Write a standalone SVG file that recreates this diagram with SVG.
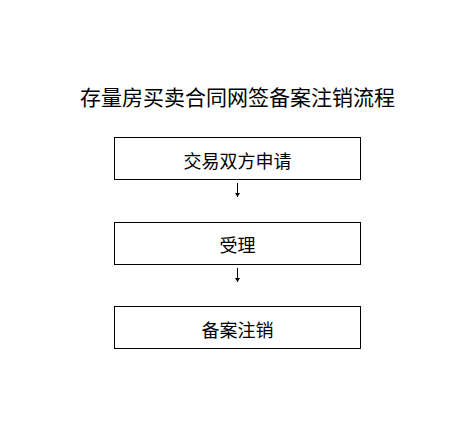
<svg xmlns="http://www.w3.org/2000/svg" width="474" height="423" viewBox="0 0 474 423">
<style>
.box{fill:#fff;stroke:#000;stroke-width:1}
.t{font-family:"Liberation Sans","Noto Sans CJK SC",sans-serif;font-size:18px;fill:#000;text-anchor:middle}
.title{font-family:"Liberation Serif","Noto Sans CJK SC",sans-serif;font-size:21px;fill:#000;text-anchor:middle}
.c{stroke:#000;stroke-width:1;fill:none}
</style>
<defs>
<marker id="ah" markerWidth="5" markerHeight="5" refX="4" refY="2.5" orient="auto" markerUnits="userSpaceOnUse">
<path d="M0,0 L4,2.5 L0,5 Z" fill="#000"/>
</marker>
</defs>
<rect width="474" height="423" fill="#fff"/>
<text class="title" x="237.5" y="105">存量房买卖合同网签备案注销流程</text>
<g id="node1"><rect class="box" x="114.5" y="137.5" width="246" height="42"/><text class="t" x="237.5" y="168">交易双方申请</text></g>
<g id="node2"><rect class="box" x="114.5" y="222.5" width="246" height="42"/><text class="t" x="237.5" y="252">受理</text></g>
<g id="node3"><rect class="box" x="114.5" y="306.5" width="246" height="42"/><text class="t" x="237.5" y="337">备案注销</text></g>
<g id="connectors">
<line class="c" x1="237.5" y1="183" x2="237.5" y2="197" marker-end="url(#ah)"/>
<line class="c" x1="237.5" y1="268" x2="237.5" y2="282" marker-end="url(#ah)"/>
</g>
</svg>
